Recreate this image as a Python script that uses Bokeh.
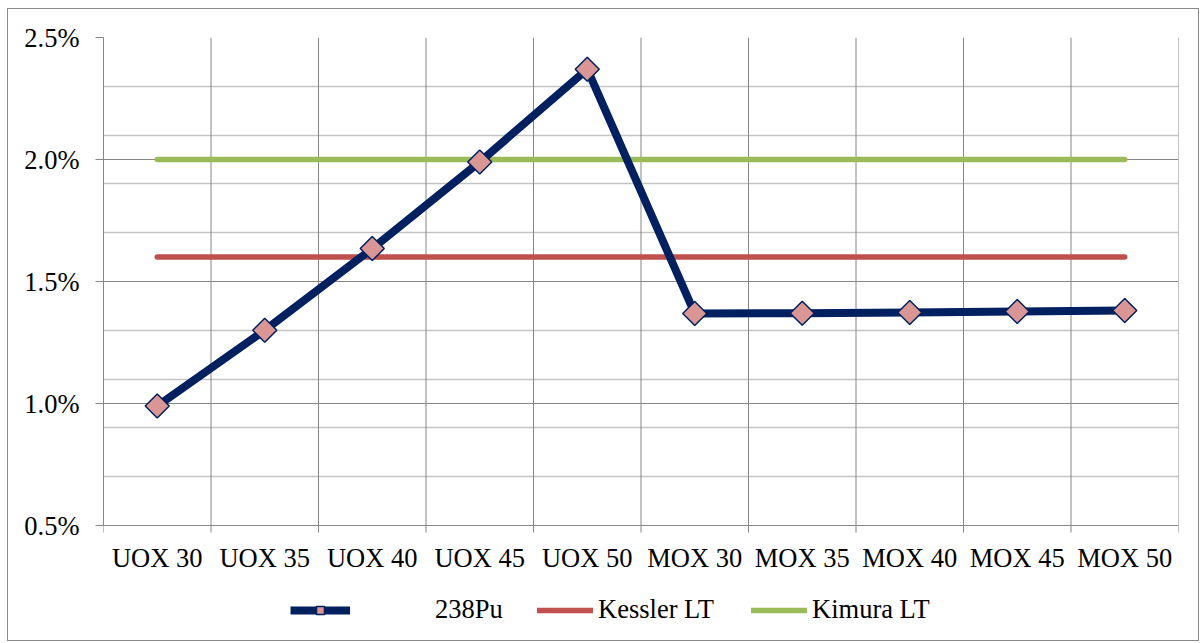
import numpy as np
from bokeh.plotting import figure
from bokeh.models import (Range1d, FixedTicker, NumeralTickFormatter, Legend, LegendItem,
                          ColumnDataSource)
from bokeh.core.properties import value
from bokeh.embed import file_html
from bokeh.resources import INLINE

categories = ["UOX 30", "UOX 35", "UOX 40", "UOX 45", "UOX 50",
              "MOX 30", "MOX 35", "MOX 40", "MOX 45", "MOX 50"]
pu238 = [0.0099, 0.0130, 0.01635, 0.0199, 0.0237,
         0.01369, 0.0137, 0.01373, 0.01377, 0.01381]
kessler_lt = [0.016, 0.016, 0.016, 0.016, 0.016, 0.016, 0.016, 0.016, 0.016, 0.016]
kimura_lt = [0.020, 0.020, 0.020, 0.020, 0.020, 0.020, 0.020, 0.020, 0.020, 0.020]
y_major_ticks = [0.005, 0.010, 0.015, 0.020, 0.025]
y_minor_ticks = [0.007, 0.009, 0.011, 0.013, 0.017, 0.019, 0.021, 0.023]

n = len(categories)
xs = [i + 0.5 for i in range(n)]
boundaries = list(range(n + 1))

FONT = "Liberation Serif"
GRID = "#868686"

# layout: value axis 0.5%..2.5% spans 488 px; frame continues below for labels/legend
Y_MIN, Y_MAX = y_major_ticks[0], y_major_ticks[-1]
FRAME_H = 595
per_px = (Y_MAX - Y_MIN) / 488
y_start = Y_MAX - FRAME_H * per_px
tick_len = 7 * per_px

p = figure(width=1192, height=633,
           min_border_left=95, min_border_right=22,
           min_border_top=28, min_border_bottom=10,
           x_range=Range1d(0, n), y_range=Range1d(y_start, Y_MAX),
           x_axis_location=None,
           output_backend="svg", toolbar_location=None)
p.styles = {"margin-left": "7px", "margin-top": "8px", "border": "1px solid #8a8a8a"}
p.outline_line_color = None
p.background_fill_color = "white"
p.border_fill_color = "white"

# y axis
p.yaxis.ticker = FixedTicker(ticks=y_major_ticks, minor_ticks=y_minor_ticks)
p.yaxis.bounds = (Y_MIN, Y_MAX)
p.yaxis.formatter = NumeralTickFormatter(format="0.0%")
p.yaxis.axis_line_color = GRID
p.yaxis.major_tick_line_color = GRID
p.yaxis.major_tick_out = 8
p.yaxis.major_tick_in = 0
p.yaxis.minor_tick_line_color = None
p.yaxis.major_label_standoff = 16
p.yaxis.major_label_text_font = FONT
p.yaxis.major_label_text_font_size = "26.5px"
p.yaxis.major_label_text_color = "black"

p.ygrid.ticker = FixedTicker(ticks=y_major_ticks, minor_ticks=y_minor_ticks)
p.ygrid.grid_line_color = GRID
p.ygrid.grid_line_width = 1
p.ygrid.minor_grid_line_color = "#c4c4c4"
p.ygrid.minor_grid_line_width = 1.3
p.xgrid.visible = False

# category boundaries (vertical gridlines + ticks below the category axis)
p.segment(x0=boundaries, y0=[Y_MIN - tick_len] * len(boundaries),
          x1=boundaries, y1=[Y_MAX] * len(boundaries),
          line_color=GRID, line_width=1)

# category labels
lab_src = ColumnDataSource(dict(x=xs, y=[Y_MIN] * n, text=categories))
p.text(x="x", y="y", text="text", source=lab_src, y_offset=17,
       text_align="center", text_baseline="top",
       text_font=value(FONT), text_font_size=value("26.5px"), text_color="black")

# series
r_kes = p.line(xs, kessler_lt, line_color="#C0504D", line_width=5.5, line_cap="round")
r_kim = p.line(xs, kimura_lt, line_color="#9BBB59", line_width=5.5, line_cap="round")
r_pu = p.line(xs, pu238, line_color="#002060", line_width=8, line_join="round")
r_pu_m = p.scatter(xs, pu238, marker="square", angle=np.pi / 4, size=17,
                   fill_color="#D99694", line_color="#002060", line_width=1.5)

common = dict(orientation="horizontal", glyph_height=20,
              padding=0, margin=0, border_line_color=None,
              background_fill_alpha=0, label_text_font=FONT,
              label_text_font_size="26.5px", label_text_color="black")
leg1 = Legend(items=[LegendItem(label="238Pu", renderers=[r_pu, r_pu_m])],
              location=(187, 7), glyph_width=60, label_standoff=85, **common)
leg2 = Legend(items=[LegendItem(label="Kessler LT", renderers=[r_kes]),
                     LegendItem(label="Kimura LT", renderers=[r_kim])],
              location=(434, 7), glyph_width=56, label_standoff=5, spacing=37,
              **common)
p.add_layout(leg1, "center")
p.add_layout(leg2, "center")

open("out.html", "w").write(file_html(p, INLINE))
